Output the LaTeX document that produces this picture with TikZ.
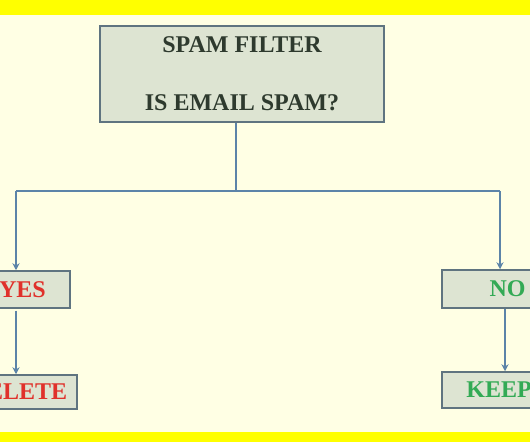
\documentclass[tikz,border=0pt]{standalone}
\usepackage{fontspec}
\setmainfont{Liberation Serif}
\usetikzlibrary{arrows.meta}

\definecolor{paper}{HTML}{FFFFE4}
\definecolor{band}{HTML}{FFFF00}
\definecolor{boxfill}{HTML}{DDE4D2}
\definecolor{boxline}{HTML}{5F7480}
\definecolor{wire}{HTML}{5C84A8}
\definecolor{darktext}{HTML}{2E3A2E}
\definecolor{yesred}{HTML}{E0312B}
\definecolor{nogreen}{HTML}{33AA55}

\begin{document}
\begin{tikzpicture}[
  x=1pt, y=1pt,
  bigfont/.style={font=\fontsize{24}{28}\selectfont\bfseries},
  question/.style={rectangle, draw=boxline, line width=1.5pt, fill=boxfill, bigfont, text=darktext, align=center, inner sep=0pt},
  answer/.style={rectangle, draw=boxline, line width=1.5pt, fill=boxfill, bigfont, inner sep=0pt},
  link/.style={draw=wire, line width=2.5pt},
  arrow/.style={link, -{Stealth[length=7pt,width=7pt]}}
]
\useasboundingbox (0,0) rectangle (530,442);
\clip (0,0) rectangle (530,442);
\fill[paper] (0,0) rectangle (530,442);
\fill[band] (0,427) rectangle (530,442);
\fill[band] (0,0) rectangle (530,10);

% decision box
\node [question, minimum width=284pt, minimum height=96pt] (filter) at (242,368)
  {SPAM FILTER\\[30pt]IS EMAIL SPAM?};

% outcomes
\node [answer, text=yesred, minimum width=95pt, minimum height=37pt] (yes) at (22.5,152.5) {YES};
\node [answer, text=yesred, minimum width=117pt, minimum height=34pt] (delete) at (18.5,50) {DELETE};
\node [answer, text=nogreen, minimum width=131pt, minimum height=38pt] (no) at (507.5,153) {NO};
\node [answer, text=nogreen, minimum width=114pt, minimum height=36pt] (keep) at (499,52) {KEEP};

% connectors
\coordinate (split) at (236,251);
\coordinate (lt) at (16,251);
\coordinate (rt) at (500,251);
\coordinate (rb) at (505,0);
\draw [link] (filter.south -| split) -- (split);
\draw [link] (lt) -- (rt);
\draw [arrow] (lt) -- (lt |- yes.north);
\draw [arrow] (rt) -- (rt |- no.north);
\draw [arrow] (lt |- yes.south) ++(0,-2) -- (lt |- delete.north);
\draw [arrow] (rb |- no.south) -- (rb |- keep.north);
\end{tikzpicture}
\end{document}
